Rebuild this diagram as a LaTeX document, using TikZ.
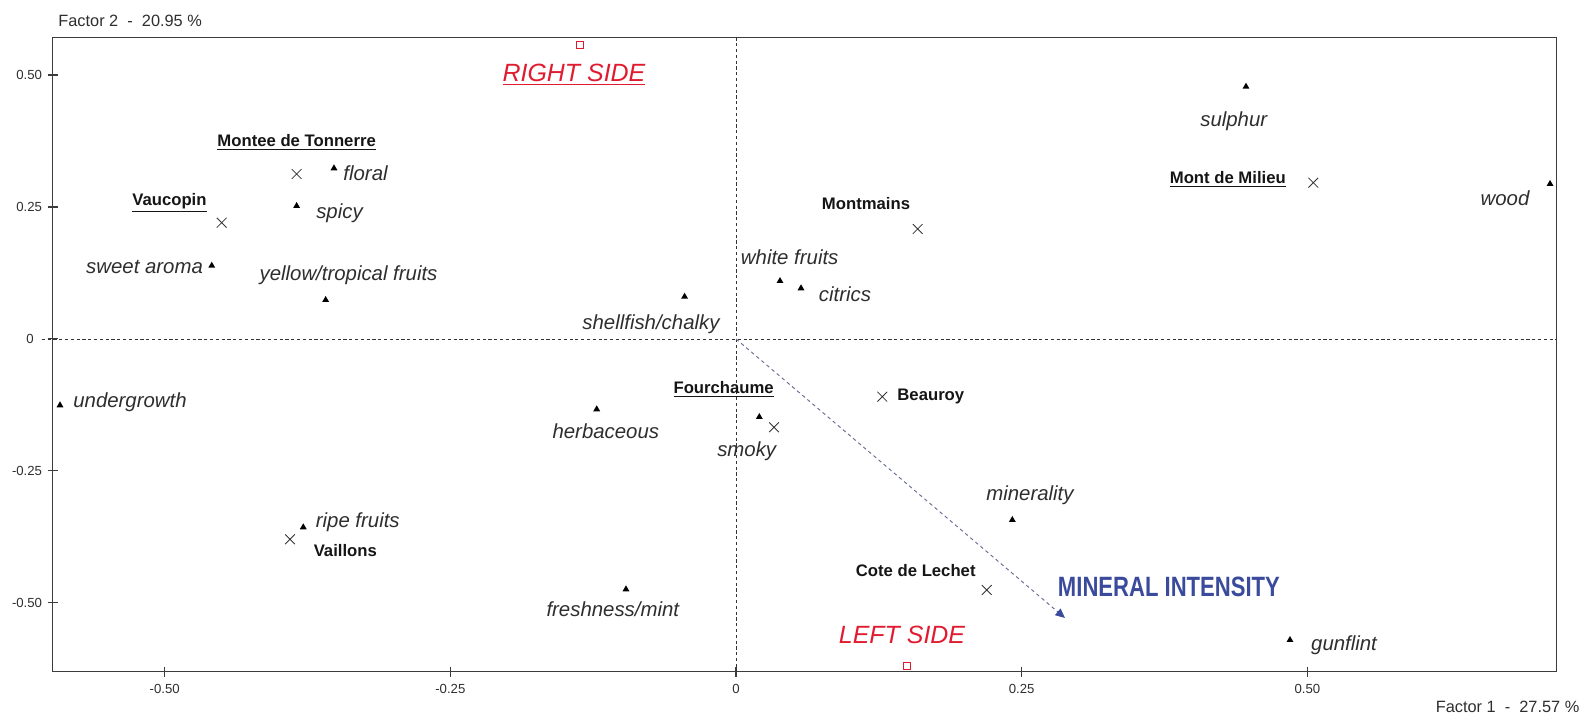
\documentclass[tikz,border=0pt]{standalone}
\usepackage{fontspec}
\setmainfont{Liberation Sans}
\usepackage{tikz}
\usetikzlibrary{positioning,arrows.meta,shapes.geometric,shapes.misc}
\definecolor{frm}{HTML}{3C3C3C}
\definecolor{ink}{HTML}{2E2E2E}
\definecolor{wine}{HTML}{151515}
\definecolor{side}{HTML}{E01B2F}
\definecolor{mine}{HTML}{3A4B9C}
\definecolor{mineln}{HTML}{6A7096}

\begin{document}
\begin{tikzpicture}[x=22.854cm,y=10.56cm,every node/.style={inner sep=0pt,text=ink},
  tri/.style={regular polygon,regular polygon sides=3,fill=black,minimum size=0.16cm},
  crs/.style={cross out,draw=black!80,line width=0.45pt,minimum size=0.18cm},
  sq/.style={rectangle,draw=side,line width=0.5pt,minimum size=0.13cm},
  att/.style={font=\fontsize{11.6}{13}\selectfont\itshape},
  cru/.style={font=\fontsize{9.5}{11}\selectfont\bfseries,text=wine},
  sd/.style={font=\fontsize{14.2}{16}\selectfont\itshape,text=side},
  tk/.style={font=\fontsize{7.5}{9}\selectfont},
  ax/.style={dash pattern=on 1.8pt off 1.5pt,line width=0.5pt,black!80}]
  \useasboundingbox (-0.6441,-0.7216) rectangle (0.7456,0.6420);
  \draw[frm,line width=0.85pt] (-0.598,-0.630) rectangle (0.718,0.571);
  \foreach \v in {-0.5,-0.25,0,0.25,0.5} {
    \draw[frm,line width=0.6pt] (-0.6024,\v) -- (-0.5936,\v);
    \draw[frm,line width=0.6pt] (\v,-0.6205) -- (\v,-0.6395);
  }
  \draw[ax] (-0.6075,0) -- (0.718,0);
  \draw[ax] (0,0.571) -- (0,-0.630);
  % axis labels
  \node[tk,anchor=east] (ya) at (-0.607,0.5) {0.50};
  \node[tk,anchor=east] (yb) at (-0.607,0.25) {0.25};
  \node[tk] (yc) at (-0.6178,0) {0};
  \node[tk,anchor=east] (yd) at (-0.607,-0.25) {-0.25};
  \node[tk,anchor=east] (ye) at (-0.607,-0.5) {-0.50};
  \node[tk] (xa) at (-0.5,-0.6629) {-0.50};
  \node[tk] (xb) at (-0.25,-0.6629) {-0.25};
  \node[tk] (xc) at (0,-0.6629) {0};
  \node[tk] (xd) at (0.25,-0.6629) {0.25};
  \node[tk] (xe) at (0.5,-0.6629) {0.50};
  \node[font=\fontsize{9.3}{11}\selectfont,anchor=west] (f2) at (-0.5933,0.6023) {Factor 2~~-~~20.95~\%};
  \node[font=\fontsize{9.3}{11}\selectfont] (f1) at (0.6752,-0.697) {Factor 1~~-~~27.57~\%};
  % wines
  \node[crs] (pmdt) at (-0.3845,0.3125) {};
  \node[cru] (lmdt) at (-0.3845,0.3718) {\underline{Montee de Tonnerre}};
  \node[crs] (pvau) at (-0.4501,0.2203) {};
  \node[cru] (lvau) at (-0.4958,0.2581) {\underline{Vaucopin}};
  \node[crs] (pmon) at (0.1590,0.2083) {};
  \node[cru] (lmon) at (0.1138,0.257) {Montmains};
  \node[crs] (pmdm) at (0.5052,0.2960) {};
  \node[cru] (lmdm) at (0.4304,0.3025) {\underline{Mont de Milieu}};
  \node[crs] (pbea) at (0.128,-0.1093) {};
  \node[cru] (lbea) at (0.1705,-0.1093) {Beauroy};
  \node[crs] (pfou) at (0.0333,-0.1672) {};
  \node[cru] (lfou) at (-0.0108,-0.0953) {\underline{Fourchaume}};
  \node[crs] (pvai) at (-0.3903,-0.3794) {};
  \node[cru] (lvai) at (-0.3419,-0.401) {Vaillons};
  \node[crs] (pcdl) at (0.2194,-0.4754) {};
  \node[cru] (lcdl) at (0.1573,-0.4388) {Cote de Lechet};
  % attributes
  \node[tri] (pflo) at (-0.3518,0.3233) {};
  \node[att] (lflo) at (-0.3242,0.3144) {floral};
  \node[tri] (pspi) at (-0.3845,0.2519) {};
  \node[att] (lspi) at (-0.347,0.2386) {spicy};
  \node[tri] (pswe) at (-0.4588,0.1388) {};
  \node[att] (lswe) at (-0.5176,0.1364) {sweet aroma};
  \node[tri] (pyel) at (-0.3591,0.0739) {};
  \node[att] (lyel) at (-0.3391,0.1212) {yellow/tropical fruits};
  \node[tri] (pwhi) at (0.0385,0.1098) {};
  \node[att] (lwhi) at (0.047,0.154) {white fruits};
  \node[tri] (pcit) at (0.0569,0.0960) {};
  \node[att] (lcit) at (0.0954,0.0852) {citrics};
  \node[tri] (pshe) at (-0.045,0.0801) {};
  \node[att] (lshe) at (-0.0744,0.0284) {shellfish/chalky};
  \node[tri] (psmo) at (0.0204,-0.1477) {};
  \node[att] (lsmo) at (0.0094,-0.2134) {smoky};
  \node[tri] (pund) at (-0.5916,-0.1256) {};
  \node[att] (lund) at (-0.5303,-0.1206) {undergrowth};
  \node[tri] (pher) at (-0.1219,-0.1331) {};
  \node[att] (lher) at (-0.1139,-0.1756) {herbaceous};
  \node[tri] (prip) at (-0.3787,-0.3566) {};
  \node[att] (lrip) at (-0.331,-0.3479) {ripe fruits};
  \node[tri] (pfre) at (-0.0963,-0.4741) {};
  \node[att] (lfre) at (-0.1078,-0.5119) {freshness/mint};
  \node[tri] (pmin) at (0.2418,-0.3428) {};
  \node[att] (lmin) at (0.2573,-0.2955) {minerality};
  \node[tri] (pgun) at (0.4848,-0.5701) {};
  \node[att] (lgun) at (0.5321,-0.5795) {gunflint};
  \node[tri] (psul) at (0.4463,0.4778) {};
  \node[att] (lsul) at (0.4356,0.4129) {sulphur};
  \node[tri] (pwoo) at (0.7124,0.2936) {};
  \node[att] (lwoo) at (0.673,0.2665) {wood};
  % sides
  \node[sq] (prs) at (-0.1365,0.5568) {};
  \node[sd] (lrs) at (-0.1418,0.5) {\underline{RIGHT SIDE}};
  \node[sq] (pls) at (0.1494,-0.6188) {};
  \node[sd] (lls) at (0.1453,-0.5606) {LEFT SIDE};
  % mineral intensity
  \coordinate (o) at (0,0);
  \coordinate (mtip) at (0.2879,-0.5284);
  \draw[mineln,dash pattern=on 2pt off 1.8pt,line width=0.55pt,-{Triangle[length=0.19cm,width=0.17cm,fill=mine,color=mine]}] (o) -- (mtip);
  \node[font=\fontsize{15.9}{18}\selectfont\bfseries,text=mine] (lmi) at (0.3789,-0.4697) {\scalebox{0.79}[1]{MINERAL INTENSITY}};
\end{tikzpicture}
\end{document}
